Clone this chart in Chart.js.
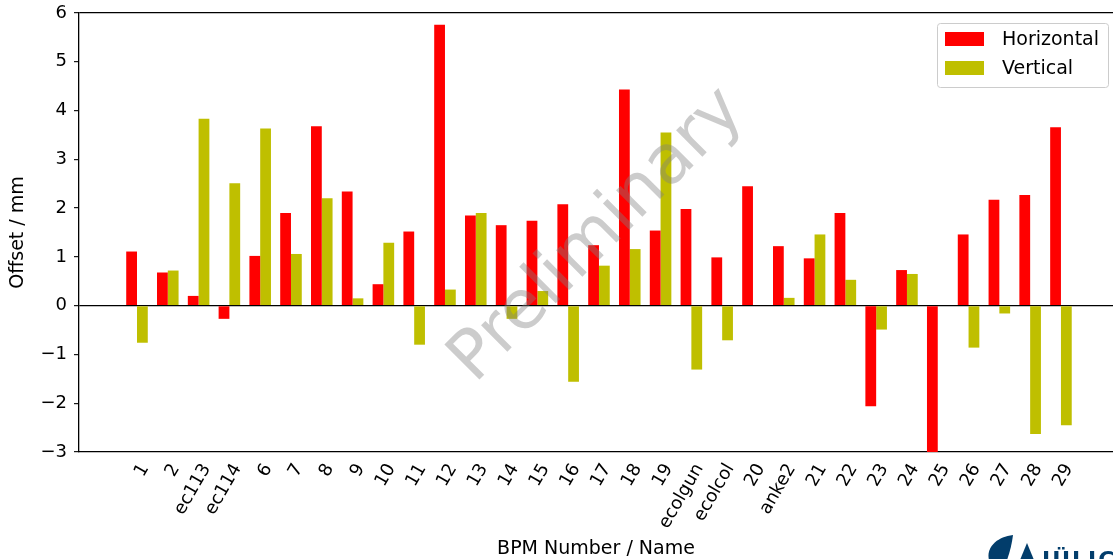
<!DOCTYPE html>
<html>
<head>
<meta charset="utf-8">
<script src="https://cdn.jsdelivr.net/npm/chart.js@4.4.1/dist/chart.umd.min.js"></script>
<style>
  html, body { margin: 0; padding: 0; background: #fff; overflow: hidden; }
  #wrap { width: 1113px; height: 559px; position: relative; }
</style>
</head>
<body>
<div id="wrap"><canvas id="myChart"></canvas></div>
<script>
// BPM names along the x axis
const names = [
    '1', '2', 'ec113', 'ec114', '6', '7', '8', '9', '10', '11', '12', '13', '14', '15', '16',
    '17', '18', '19', 'ecolgun', 'ecolcol', '20', 'anke2', '21', '22', '23', '24', '25',
    '26', '27', '28', '29'
];
// offsets in mm
const horizontal = [
    1.11, 0.68, 0.20, -0.27, 1.02, 1.90, 3.68, 2.34, 0.44, 1.52, 5.76, 1.85, 1.65, 1.74, 2.08,
    1.24, 4.43, 1.54, 1.98, 0.99, 2.45, 1.22, 0.97, 1.90, -2.06, 0.73, -3.0,
    1.46, 2.17, 2.27, 3.66
];
const vertical = [
    -0.76, 0.72, 3.83, 2.51, 3.63, 1.06, 2.20, 0.15, 1.29, -0.80, 0.33, 1.90, -0.27, 0.30, -1.56,
    0.82, 1.16, 3.55, -1.31, -0.71, 0, 0.16, 1.46, 0.53, -0.49, 0.65, 0,
    -0.86, -0.16, -2.63, -2.45
];
const yTicks = [-3, -2, -1, 0, 1, 2, 3, 4, 5, 6];

Chart.defaults.font.family = 'DejaVu Sans';
Chart.defaults.color = '#000';

const toPoints = arr => arr.map((v, i) => ({ x: i, y: v }));

const data = {
    datasets: [
        {
            label: 'Horizontal',
            backgroundColor: '#ff0000',
            borderWidth: 0,
            data: toPoints(horizontal),
        },
        {
            label: 'Vertical',
            backgroundColor: '#bfbf00',
            borderWidth: 0,
            data: toPoints(vertical),
        }
    ]
};

// legend box in the upper right, matplotlib style
const boxLegend = {
    id: 'boxLegend',
    afterDraw(chart) {
        const ctx = chart.ctx;
        ctx.save();
        ctx.beginPath();
        ctx.roundRect(937.5, 23.5, 171, 64, 3);
        ctx.fillStyle = 'rgba(255,255,255,0.8)';
        ctx.fill();
        ctx.strokeStyle = '#cccccc';
        ctx.lineWidth = 1;
        ctx.stroke();
        ctx.font = '19px "DejaVu Sans"';
        ctx.textBaseline = 'middle';
        chart.data.datasets.forEach((ds, i) => {
            const y = 32 + i * 29;
            ctx.fillStyle = ds.backgroundColor;
            ctx.fillRect(945, y, 39, 14);
            ctx.fillStyle = '#000';
            ctx.fillText(ds.label, 1002, y + 8);
        });
        ctx.restore();
    }
};

// "Preliminary" stamp over the bars
const watermark = {
    id: 'watermark',
    afterDatasetsDraw(chart) {
        const ctx = chart.ctx;
        ctx.save();
        ctx.translate(598, 236);
        ctx.rotate(-Math.PI / 4);
        ctx.font = '68px "DejaVu Sans"';
        ctx.fillStyle = 'rgba(128,128,128,0.4)';
        ctx.textAlign = 'center';
        ctx.textBaseline = 'middle';
        ctx.fillText('Preliminary', 0, 0);
        ctx.restore();
    }
};

// bit of the institute logo cut off at the corner
const logo = {
    id: 'logo',
    afterDraw(chart) {
        const ctx = chart.ctx;
        ctx.save();
        ctx.fillStyle = '#023d6b';
        ctx.beginPath();
        ctx.moveTo(1013, 535);
        ctx.bezierCurveTo(996, 537, 986, 548, 989, 560);
        ctx.lineTo(1007, 560);
        ctx.bezierCurveTo(1010, 552, 1012, 543, 1013, 535);
        ctx.fill();
        ctx.beginPath();
        ctx.moveTo(1027, 543);
        ctx.lineTo(1034, 560);
        ctx.lineTo(1020, 560);
        ctx.fill();
        ctx.font = 'bold 22px "DejaVu Sans"';
        ctx.letterSpacing = '2px';
        ctx.textBaseline = 'alphabetic';
        ctx.fillText('JÜLICH', 1042, 567);
        ctx.restore();
    }
};

const config = {
    type: 'bar',
    data: data,
    options: {
        responsive: true,
        maintainAspectRatio: false,
        animation: false,
        layout: { padding: { top: 13, right: 0, bottom: 0, left: 0 } },
        datasets: {
            bar: { categoryPercentage: 0.7, barPercentage: 1.0 }
        },
        plugins: {
            legend: { display: false },
            tooltip: { enabled: false }
        },
        scales: {
            x: {
                type: 'linear',
                offset: false,
                min: -1.883,
                max: 31.69,
                afterBuildTicks: scale => {
                    scale.ticks = names.map((n, i) => ({ value: i }));
                },
                afterFit: scale => {
                    scale.height = 107;
                    scale.paddingLeft = 0;
                    scale.paddingRight = 0;
                },
                grid: { display: false, drawTicks: false },
                border: { display: true, color: '#000', width: 1.3 },
                ticks: {
                    autoSkip: false,
                    maxRotation: 60,
                    minRotation: 60,
                    padding: 8,
                    labelOffset: 8,
                    font: { size: 18 },
                    callback: v => names[v] !== undefined ? names[v] : ''
                },
                title: {
                    display: true,
                    text: 'BPM Number / Name',
                    font: { size: 19 },
                    padding: { top: 0, bottom: -1 }
                }
            },
            y: {
                min: -3,
                max: 6,
                afterBuildTicks: scale => {
                    scale.ticks = yTicks.map(v => ({ value: v }));
                },
                afterFit: scale => {
                    scale.width = 79;
                    scale.paddingTop = 0;
                    scale.paddingBottom = 0;
                },
                grid: {
                    color: c => (c.tick && (c.tick.value === 0 || c.tick.value === 6)) ? '#000' : 'rgba(0,0,0,0)',
                    lineWidth: 1.3,
                    tickColor: '#000',
                    tickLength: 5,
                    tickWidth: 1.1
                },
                border: { display: true, color: '#000', width: 1.3 },
                ticks: {
                    padding: 7,
                    font: { size: 18 },
                    callback: v => v < 0 ? '\u2212' + Math.abs(v) : String(v)
                },
                title: {
                    display: true,
                    text: 'Offset / mm',
                    font: { size: 19 },
                    padding: { top: 7, bottom: 0 }
                }
            }
        }
    },
    plugins: [watermark, boxLegend, logo]
};

const myChart = new Chart(
    document.getElementById('myChart'),
    config
);
</script>
</body>
</html>
